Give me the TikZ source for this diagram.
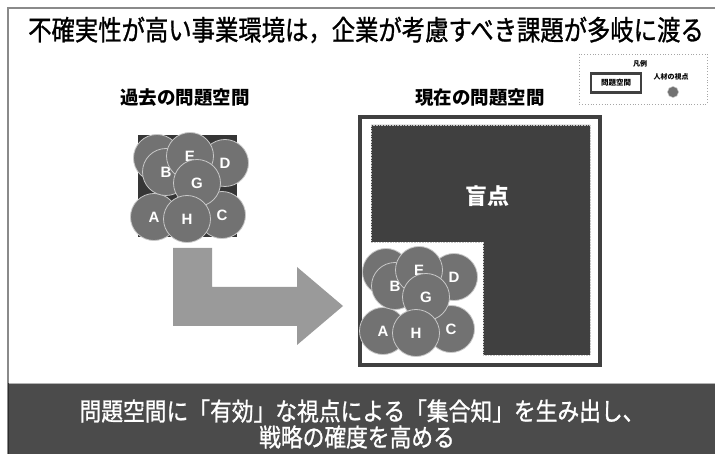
\documentclass[tikz,border=0pt]{standalone}
\usepackage{fontspec}
\setmainfont{Liberation Sans}
\newfontfamily\jp{Noto Sans CJK JP}
\newfontfamily\jpn[FakeStretch=0.84,FakeBold=1]{Noto Sans CJK JP}
\newfontfamily\jpm[FakeStretch=0.87,FakeBold=1]{Noto Sans CJK JP}
\definecolor{cgray}{HTML}{727272}
\definecolor{cline}{HTML}{C8C8C8}
\definecolor{dark}{HTML}{404040}
\definecolor{bar}{HTML}{4B4B4B}
\definecolor{arrowc}{HTML}{9A9A9A}
\definecolor{frame}{HTML}{8A8A8A}
\tikzset{
  person/.style={circle, fill=cgray, draw=cline, line width=0.8pt, minimum size=47pt, inner sep=0pt,
    text=white, font=\bfseries\fontsize{15}{15}\selectfont},
  txt/.style={inner sep=0pt, anchor=center},
}
\begin{document}
\begin{tikzpicture}[x=1pt,y=-1pt]
\useasboundingbox (0,0) rectangle (715,454);
\fill[white] (0,0) rectangle (715,454);
% slide frame
\draw[frame, line width=1.2pt] (8,454) -- (8,8) -- (715,8);
% title
\node[txt] (title) at (366,30) {\jpn\fontsize{27.8}{30}\selectfont 不確実性が高い事業環境は，企業が考慮すべき課題が多岐に渡る};
% subtitles
\node[txt] (past) at (185,98) {\jp\bfseries\fontsize{18.5}{20}\selectfont 過去の問題空間};
\node[txt] (now) at (480,98) {\jp\bfseries\fontsize{18.5}{20}\selectfont 現在の問題空間};
% legend
\draw[gray!70, dotted, line width=0.8pt] (579,54) rectangle (707,104);
\node[txt] (lgt) at (640,64) {\jp\bfseries\fontsize{7}{8}\selectfont 凡例};
\node[draw=dark, line width=2.6pt, fill=white, minimum width=50pt, minimum height=19pt, inner sep=0pt] (lgbox) at (616,83) {\jp\bfseries\fontsize{7.5}{8}\selectfont 問題空間};
\node[txt] (lgp) at (671,77) {\jp\bfseries\fontsize{7}{8}\selectfont 人材の視点};
\node[circle, fill=cgray, draw=cline, line width=0.5pt, minimum size=11pt, inner sep=0pt] (lgc) at (673,92) {};
% past problem space
\fill[dark!85!black] (138,135) rectangle (237,237);
\node[person] (pD) at (225,163) {D};
\node[person] (pC) at (222,215) {C};
\node[person] (pA) at (154,217) {A};
\node[person] (pX) at (157,158) {};
\node[person] (pB) at (166,172) {B};
\node[person] (pE) at (190,156) {E};
\node[person] (pG) at (197,183) {G};
\node[person] (pH) at (187,219) {H};
% arrow
\fill[arrowc] (173,248) -- (212,248) -- (212,287) -- (297,287) -- (297,267) -- (343,306) -- (297,345) -- (297,326) -- (173,326) -- cycle;
% present problem space
\draw[dark, line width=4pt, fill=white] (360,117) rectangle (600,365);
\draw[cline, densely dotted, line width=0.6pt, fill=dark] (371,125) -- (590,125) -- (590,355) -- (483,355) -- (483,242) -- (371,242) -- cycle;
\node[txt, text=white] (blind) at (487,196) {\jp\bfseries\fontsize{22}{24}\selectfont 盲点};
\begin{scope}[shift={(229,114)}]
\node[person] (cD) at (225,163) {D};
\node[person] (cC) at (222,215) {C};
\node[person] (cA) at (154,217) {A};
\node[person] (cX) at (157,158) {};
\node[person] (cB) at (166,172) {B};
\node[person] (cE) at (190,156) {E};
\node[person] (cG) at (197,183) {G};
\node[person] (cH) at (187,219) {H};
\end{scope}
% bottom bar
\fill[bar] (8,383) rectangle (715,454);
\draw[gray!60, line width=0.6pt] (8,383) -- (715,383);
\draw[dark!70!black, line width=1.5pt] (8.5,383) -- (8.5,454);
\node[txt, text=white] (msg1) at (362,411) {\jpm\fontsize{25}{28}\selectfont 問題空間に「有効」な視点による「集合知」を生み出し、};
\node[txt, text=white] (msg2) at (357,437) {\jpm\fontsize{25}{28}\selectfont 戦略の確度を高める};
\end{tikzpicture}
\end{document}
